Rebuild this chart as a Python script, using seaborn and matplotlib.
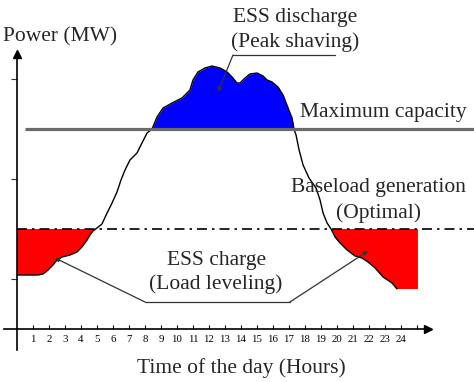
import numpy as np
import matplotlib
matplotlib.use("Agg")
import matplotlib.pyplot as plt
import seaborn as sns

# load profile (hour of day, MW in chart units)
hours = np.array([0.0, 1.31, 1.63, 1.94, 2.25, 2.5, 2.81, 3.31, 3.75, 4.06,
                  4.38, 4.56, 4.75, 5.0, 5.31, 5.63, 5.94, 6.25, 6.5, 6.75,
                  7.06, 7.5, 7.81, 8.13, 8.44, 8.75, 9.13, 9.69, 10.31, 10.81,
                  11.0, 11.31, 11.75, 12.19, 12.69, 13.13, 13.44, 13.75, 13.94, 14.25,
                  14.56, 15.0, 15.38, 15.63, 15.94, 16.31, 16.63, 16.94, 17.19, 17.31,
                  17.44, 17.63, 17.88, 18.25, 18.69, 18.94, 19.13, 19.38, 19.63, 19.88,
                  20.19, 20.63, 21.13, 21.56, 21.94, 22.38, 22.88, 23.44, 23.75, 25.06])
load = np.array([5.4, 5.4, 5.5, 5.9, 6.4, 6.9, 7.2, 7.4, 7.7, 8.2,
                 8.9, 9.4, 9.8, 10.1, 10.5, 11.6, 12.6, 13.7, 14.9, 15.9,
                 16.9, 17.6, 18.6, 19.6, 20.0, 21.2, 22.1, 22.6, 23.1, 23.9,
                 24.9, 25.7, 26.1, 26.3, 26.1, 25.7, 25.2, 24.6, 24.6, 25.1,
                 25.5, 25.6, 25.3, 24.9, 24.7, 24.2, 23.4, 22.1, 21.1, 20.0,
                 19.4, 17.9, 16.4, 15.1, 14.1, 12.9, 11.6, 10.6, 10.0, 9.2,
                 8.6, 7.9, 7.3, 7.1, 6.7, 6.1, 5.2, 4.6, 4.0, 4.0])

max_capacity = 20
baseload = 10
tick_hours = list(range(1, 26))
tick_labels = [str(i) for i in range(1, 25)] + [""]
y_ticks = [5, 15, 25]

sns.set_theme(style="white")
plt.rcParams["font.family"] = ["Liberation Serif", "DejaVu Serif"]

fig = plt.figure(figsize=(4.74, 3.82), dpi=100)
ax = fig.add_axes([0, 0, 1, 1])
ax.set_xlim(-17 / 16, 457 / 16)
ax.set_ylim(-5.3, 32.9)

# shaded areas
ax.fill_between(hours, load, max_capacity, where=load >= max_capacity,
                interpolate=True, color="#0000ff", lw=0, zorder=2)
ax.fill_between(hours, load, baseload, where=load <= baseload,
                interpolate=True, color="#ff0000", lw=0, zorder=2)

sns.lineplot(x=hours[:-1], y=load[:-1], ax=ax, color="black", lw=1.0,
             sort=False, estimator=None, zorder=3)

ax.hlines(max_capacity, 0.5, 29, color="#6a6a6a", lw=2.3, zorder=3)
ax.hlines(baseload, 0, 29, color="black", lw=1.2, linestyles=(0, (6, 3, 1.5, 3)),
          zorder=3)

# axes with arrows
for s in ["top", "right"]:
    ax.spines[s].set_visible(False)
ax.spines["left"].set_position(("data", 0))
ax.spines["bottom"].set_position(("data", 0))
ax.spines["left"].set_bounds(-2.1, 27.3)
ax.spines["bottom"].set_bounds(-0.8, 25.6)
for s in ["left", "bottom"]:
    ax.spines[s].set_color("black")
    ax.spines[s].set_linewidth(1.2)
ax.plot(0, 27.5, marker="^", color="black", ms=6, clip_on=False, zorder=4)
ax.plot(25.7, 0, marker=">", color="black", ms=6, clip_on=False, zorder=4)

ax.set_xticks(tick_hours)
ax.set_xticklabels(tick_labels, fontsize=7.8)
ax.set_yticks(y_ticks)
ax.set_yticklabels([])
ax.tick_params(axis="x", direction="in", length=3, width=0.8, pad=4,
               bottom=True, colors="black")
ax.tick_params(axis="y", direction="out", length=4, width=0.8,
               left=True, colors="#333333")

fs = 15.5
ax.text(-0.875, 29.2, "Power (MW)", fontsize=fs, ha="left", va="center")
ax.text(14.0, -3.9, "Time of the day (Hours)", fontsize=fs, ha="center",
        va="center")
ax.text(17.4, 31.1, "ESS discharge", fontsize=fs, ha="center", va="center")
ax.text(17.4, 28.7, "(Peak shaving)", fontsize=fs, ha="center", va="center")
ax.text(17.7, 21.6, "Maximum capacity", fontsize=fs, ha="left", va="center")
ax.text(22.6, 14.1, "Baseload generation", fontsize=fs, ha="center",
        va="center")
ax.text(22.6, 11.6, "(Optimal)", fontsize=fs, ha="center", va="center")
ax.text(12.5, 6.9, "ESS charge", fontsize=fs, ha="center", va="center")
ax.text(12.44, 4.45, "(Load leveling)", fontsize=fs, ha="center", va="center")

# leader lines
ax.plot([13.5, 19.88], [27.4, 27.4], color="#333333", lw=0.9)
ax.annotate("", xy=(12.56, 23.7), xytext=(13.5, 27.4),
            arrowprops=dict(arrowstyle="-|>", color="#333333", lw=0.9,
                            mutation_scale=6, shrinkA=0, shrinkB=0))
ax.plot([8.0, 17.06], [2.7, 2.7], color="#333333", lw=0.9)
ax.annotate("", xy=(2.375, 7.1), xytext=(8.0, 2.7),
            arrowprops=dict(arrowstyle="-|>", color="#333333", lw=0.9,
                            mutation_scale=6, shrinkA=0, shrinkB=0))
ax.annotate("", xy=(21.94, 7.8), xytext=(17.06, 2.7),
            arrowprops=dict(arrowstyle="-|>", color="#333333", lw=0.9,
                            mutation_scale=6, shrinkA=0, shrinkB=0))

fig.savefig("out.png", dpi=100)
